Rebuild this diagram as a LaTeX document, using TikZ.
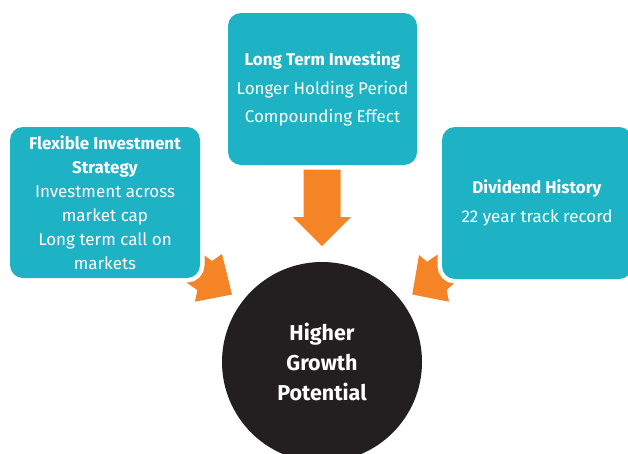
\documentclass[tikz,border=0pt]{standalone}
\usepackage{fontspec}
\setmainfont{Fira Sans}
\definecolor{teal}{RGB}{30,178,197}
\definecolor{orng}{RGB}{245,132,38}
\definecolor{blk}{RGB}{35,31,32}
\begin{document}
\begin{tikzpicture}[x=1pt,y=-1pt,
  box/.style={preaction={draw=white,line width=9pt},fill=teal,rounded corners=13pt,text=white,align=center,inner sep=0pt,
    font=\fontsize{17}{24}\selectfont},
  blockarrow/.style={fill=orng,draw=none},
  hub/.style={circle,fill=blk,text=white,align=center,minimum size=200pt,inner sep=0pt,
    font=\fontsize{21.5}{30}\selectfont\bfseries}]
\useasboundingbox (0,0) rectangle (628,453);
% arrows (tails hidden under boxes)
\fill[blockarrow] (303.5,169) -- (340.5,169) -- (340.5,217) -- (351,217) -- (322,246) -- (293,217) -- (303.5,217) -- cycle;
\fill[blockarrow] (192,246) -- (212,261) -- (222,254) -- (232,294.5) -- (195,301.7) -- (197.3,290) -- (177,276) -- cycle;
\fill[blockarrow] (452,244.7) -- (427,261.7) -- (419,255) -- (412.3,294.5) -- (449,301.7) -- (446.7,290) -- (467,271.5) -- cycle;
% boxes
\node[box,minimum width=189pt,minimum height=152pt] (top) at (322.5,89)
  {\textbf{Long Term Investing}\\[4.5pt] Longer Holding Period\\[4.5pt] Compounding Effect};
\node[box,minimum width=190pt,minimum height=151pt] (left) at (105,202.5)
  {\textbf{Flexible Investment}\\ \textbf{Strategy}\\ Investment across\\ market cap\\ Long term call on\\ markets};
\node[box,minimum width=190pt,minimum height=152pt] (right) at (537,203)
  {\textbf{Dividend History}\\[5pt] 22 year track record};
% hub
\node[hub] (hub) at (322,362) {Higher\\ Growth\\ Potential};
\end{tikzpicture}
\end{document}
